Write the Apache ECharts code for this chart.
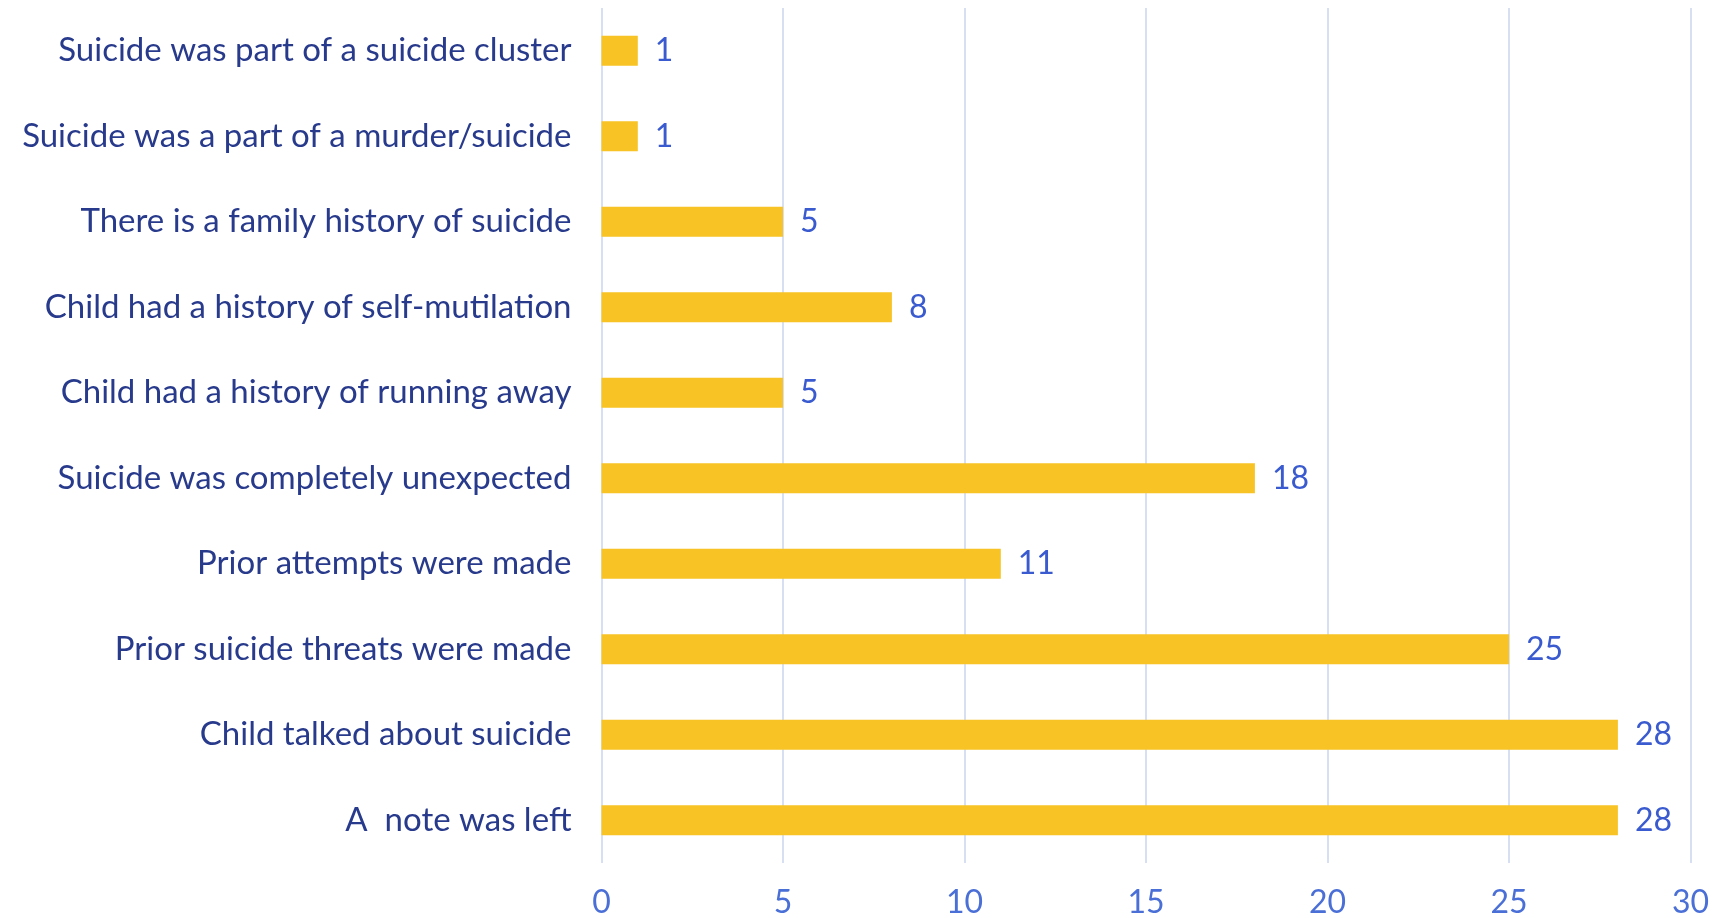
<!DOCTYPE html>
<html>
<head>
<meta charset="utf-8">
<script src="https://cdn.jsdelivr.net/npm/echarts@6/dist/echarts.min.js"></script>
<style>
  html, body { margin: 0; padding: 0; background: #ffffff; }
  #chart { width: 1734px; height: 918px; }
</style>
</head>
<body>
<div id="chart"></div>
<script>
// Categories listed bottom to top (category axis starts at the bottom)
const categories = [
  'A  note was left',
  'Child talked about suicide',
  'Prior suicide threats were made',
  'Prior attempts were made',
  'Suicide was completely unexpected',
  'Child had a history of running away',
  'Child had a history of self-mutilation',
  'There is a family history of suicide',
  'Suicide was a part of a murder/suicide',
  'Suicide was part of a suicide cluster'
];
const counts = [28, 28, 25, 11, 18, 5, 8, 5, 1, 1];
const xTicks = [0, 5, 10, 15, 20, 25, 30];

const FONT = 'Lato';
const FONT_SIZE = 32;

const chart = echarts.init(document.getElementById('chart'), null, { renderer: 'canvas' });
chart.setOption({
  backgroundColor: '#ffffff',
  animation: false,
  grid: {
    left: 601.5, right: 43.5, top: 8, bottom: 55,
    containLabel: false,
    outerBoundsMode: 'none'
  },
  xAxis: {
    type: 'value',
    min: xTicks[0],
    max: xTicks[xTicks.length - 1],
    interval: 5,
    axisLine: { show: false },
    axisTick: { show: false },
    splitLine: { show: true, lineStyle: { color: '#d7e0f3', width: 2 } },
    axisLabel: { color: '#4a6fd6', fontSize: FONT_SIZE, fontFamily: FONT, margin: 24 }
  },
  yAxis: {
    type: 'category',
    data: categories,
    axisLine: { show: false },
    axisTick: { show: false },
    axisLabel: { color: '#283a8c', fontSize: 33, fontFamily: FONT, margin: 30, padding: [2, 0, 0, 0] }
  },
  series: [{
    type: 'bar',
    data: counts,
    barWidth: 30,
    itemStyle: { color: '#f7c325' },
    label: {
      show: true,
      position: 'right',
      distance: 17,
      color: '#3a5bd0',
      fontSize: FONT_SIZE,
      fontFamily: FONT,
      padding: [2, 0, 0, 0]
    }
  }]
});
</script>
</body>
</html>
